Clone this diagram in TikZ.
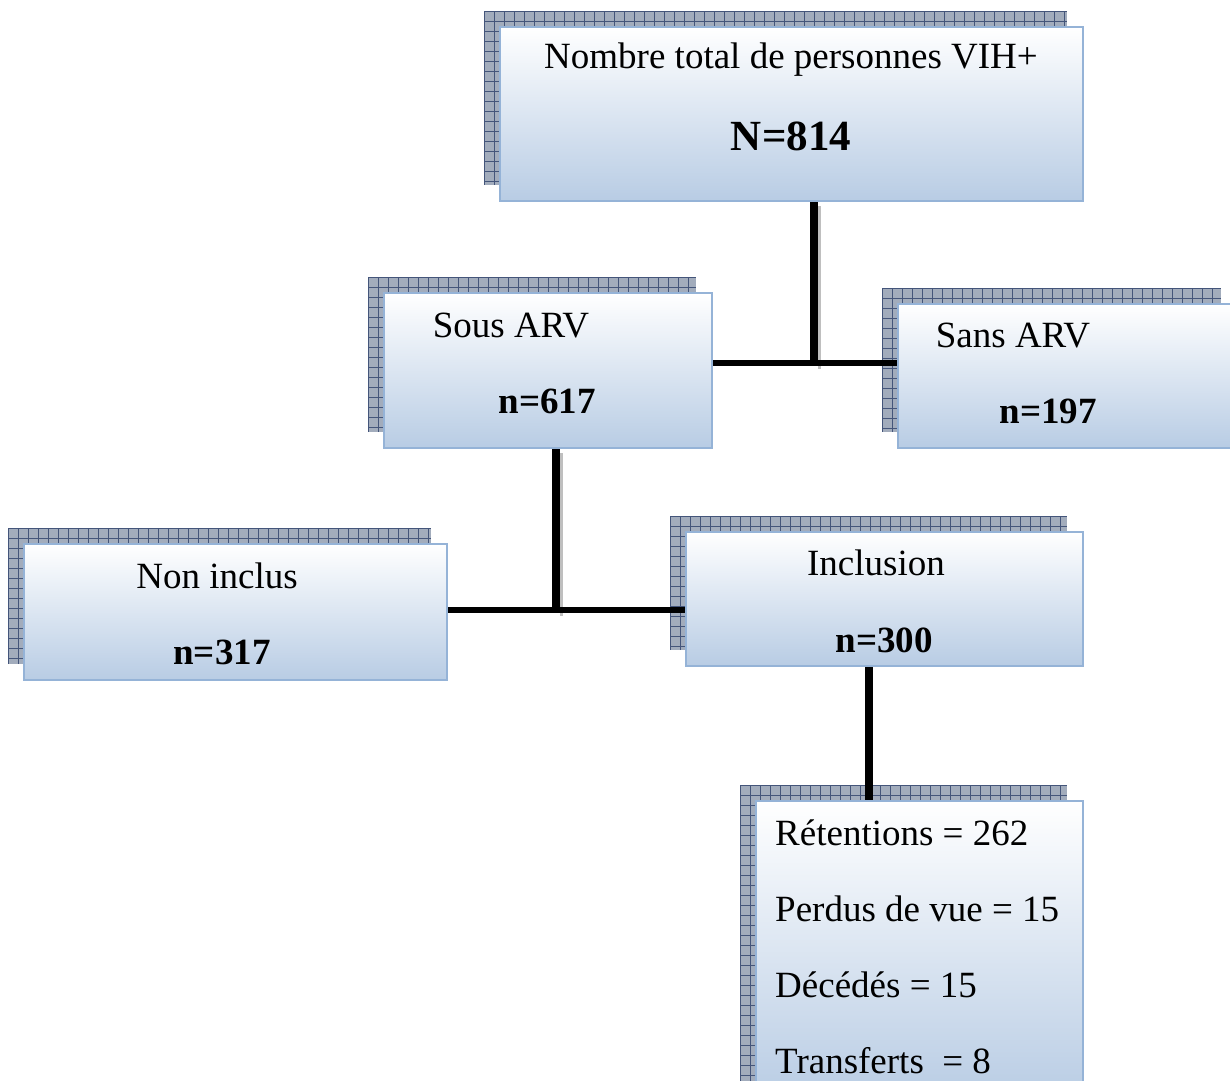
\documentclass[tikz,border=0pt]{standalone}
\usepackage{fontspec}
\setmainfont{Liberation Serif}
\definecolor{boxbot}{HTML}{B8CCE4}
\definecolor{boxline}{HTML}{95B3D7}
\definecolor{shfill}{HTML}{A2ACBC}
\definecolor{shline}{HTML}{44557A}
\tikzset{
  gbox/.style={draw=boxline, line width=2pt, top color=white, bottom color=boxbot, shading angle=0, rectangle, inner sep=0, anchor=north west},
  txt/.style={font=\fontsize{37}{44}\selectfont, inner sep=0, anchor=base},
  txtl/.style={font=\fontsize{37}{44}\selectfont, inner sep=0, anchor=base west},
  big/.style={font=\fontsize{43}{50}\selectfont\bfseries, inner sep=0, anchor=base},
  bld/.style={font=\fontsize{37}{44}\selectfont\bfseries, inner sep=0, anchor=base},
  vconn/.style={line width=8pt, black},
  hconn/.style={line width=6pt, black},
  connsh/.style={line width=3pt, black!25},
}
% #1 name, #2 x1, #3 y1, #4 width, #5 height (px, y downwards)
\newcommand\shbox[5]{%
  \begin{scope}
    \clip (#2-15,#3-15) rectangle ++(#4,#5);
    \fill[shfill] (#2-15,#3-15) rectangle ++(#4,#5);
    \foreach \k in {0,10,...,1200} {
      \draw[shline, line width=1pt] (#2-15+\k,#3-15) -- ++(0,#5);
      \draw[shline, line width=1pt] (#2-15,#3-15+\k) -- ++(#4,0);
    }
  \end{scope}
  \node[gbox, minimum width=#4pt, minimum height=#5pt] (#1) at (#2,#3) {};
}
\begin{document}
\begin{tikzpicture}[x=1pt,y=-1pt]
\useasboundingbox[fill=white] (0,0) rectangle (1230,1080);
\coordinate (j1) at (814,363);
\coordinate (j2) at (556,610);
% boxes
\shbox{top}{499}{26}{583}{174}
\shbox{sous}{383}{292}{328}{155}
\shbox{sans}{897}{303}{339}{144}
\shbox{non}{23}{543}{423}{136}
\shbox{incl}{685}{531}{397}{134}
\shbox{ret}{755}{800}{327}{300}
% connector shadows
\draw[connsh] ([xshift=5pt, yshift=-4pt]top.south -| j1) -- ([xshift=5pt, yshift=-6pt]j1);
\draw[connsh] ([xshift=5pt, yshift=-4pt]sous.south -| j2) -- ([xshift=5pt, yshift=-6pt]j2);
% connectors
\draw[vconn] (top.south -| j1) -- (j1);
\draw[hconn] (sous.east |- j1) -- (sans.west |- j1);
\draw[vconn] (sous.south -| j2) -- (j2);
\draw[hconn] (non.east |- j2) -- (incl.west |- j2);
\draw[vconn] (incl.south -| 869,0) -- (ret.north -| 869,0);
% texts
\node[txt] (t1) at (791,68) {Nombre total de personnes VIH+};
\node[big] (t2) at (791,150) {N=814};
\node[txt] (t3) at (511,337) {Sous ARV};
\node[bld] (t4) at (547,413) {n=617};
\node[txt] (t5) at (1013,347) {Sans ARV};
\node[bld] (t6) at (1048,423) {n=197};
\node[txt] (t7) at (217,588) {Non inclus};
\node[bld] (t8) at (222,664) {n=317};
\node[txt] (t9) at (876,575) {Inclusion};
\node[bld] (t10) at (884,652) {n=300};
\node[txtl] (r1) at (775,845) {Rétentions = 262};
\node[txtl] (r2) at (775,921) {Perdus de vue = 15};
\node[txtl] (r3) at (775,997) {Décédés = 15};
\node[txtl] (r4) at (775,1073) {Transferts \ = 8};
\end{tikzpicture}
\end{document}
